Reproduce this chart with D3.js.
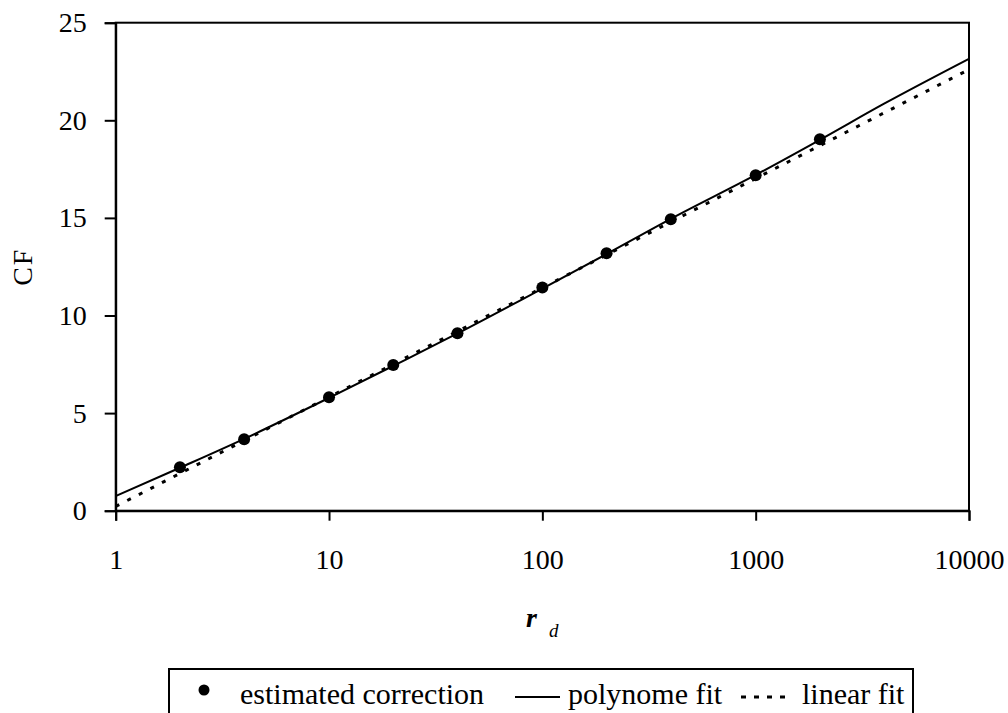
<!DOCTYPE html>
<html><head><meta charset="utf-8">
<script src="https://cdn.jsdelivr.net/npm/d3@7"></script>
<style>
body{margin:0;background:#fff;}
svg{display:block;font-family:"Liberation Serif","Times New Roman",serif;}
</style></head>
<body>
<svg id="c" width="1008" height="713"></svg>
<script>
// Data
const rdValues = [2, 4, 10, 20, 40, 100, 200, 400, 1000, 2000];
const cfValues = [2.22, 3.66, 5.81, 7.46, 9.09, 11.44, 13.19, 14.93, 17.18, 19.03];
const polyX = [1, 2, 4, 10, 20, 40, 100, 200, 400, 1000, 2000, 4000, 10000];
const polyY = [0.75, 2.2, 3.68, 5.78, 7.42, 9.08, 11.38, 13.15, 14.95, 17.2, 19.0, 20.85, 23.15];
const linX = [1, 10, 100, 1000, 10000];
const linY = [0.22, 5.82, 11.42, 17.02, 22.6];
const xTicks = [1, 10, 100, 1000, 10000];
const yTicks = [0, 5, 10, 15, 20, 25];
const legendLabels = ["estimated correction", "polynome fit", "linear fit"];

const svg = d3.select("#c");
const L = 115.7, R = 969, T = 22.7, B = 510.7;
const x = d3.scaleLog().domain([1, 10000]).range([L, R]);
const y = d3.scaleLinear().domain([0, 25]).range([B, T]);

// frame
svg.append("rect").attr("x", L).attr("y", T).attr("width", R - L).attr("height", B - T)
  .attr("fill", "none").attr("stroke", "#000").attr("stroke-width", 2);

// axes
const yAxis = svg.append("g").attr("transform", `translate(${L},0)`)
  .call(d3.axisLeft(y).tickValues(yTicks).tickSize(11).tickPadding(18).tickFormat(d3.format("d")));
const xAxis = svg.append("g").attr("transform", `translate(0,${B})`)
  .call(d3.axisBottom(x).tickValues(xTicks).tickSize(10).tickPadding(28).tickFormat(d3.format("d")));
[yAxis, xAxis].forEach(g => {
  g.select(".domain").attr("stroke", "#000").attr("stroke-width", 2);
  g.selectAll(".tick line").attr("stroke", "#000").attr("stroke-width", 2);
  g.selectAll(".tick text").attr("fill", "#000").style("font-family", '"Liberation Serif", serif').style("font-size", "28px");
});

// lines
const line = d3.line().x(d => x(d[0])).y(d => y(d[1])).curve(d3.curveMonotoneX);
svg.append("path").datum(d3.zip(polyX, polyY)).attr("d", line)
  .attr("fill", "none").attr("stroke", "#000").attr("stroke-width", 2);
svg.append("path").datum(d3.zip(linX, linY)).attr("d", line)
  .attr("fill", "none").attr("stroke", "#000").attr("stroke-width", 3).attr("stroke-dasharray", "4,9");

// points
svg.append("g").selectAll("circle").data(d3.zip(rdValues, cfValues)).join("circle")
  .attr("cx", d => x(d[0])).attr("cy", d => y(d[1])).attr("r", 6).attr("fill", "#000");

// axis titles
svg.append("text").attr("transform", `translate(32,${(T + B) / 2}) rotate(-90)`)
  .attr("text-anchor", "middle").style("font-size", "28px").style("letter-spacing", "2px").text("CF");
const xt = svg.append("text").attr("x", 526).attr("y", 627).style("font-size", "28px");
xt.append("tspan").style("font-weight", "bold").style("font-style", "italic").text("r");
xt.append("tspan").attr("x", 549).attr("y", 637).style("font-style", "italic").style("font-size", "19px").text("d");

// legend
const lg = svg.append("g");
lg.append("rect").attr("x", 169).attr("y", 669).attr("width", 913 - 169).attr("height", 80)
  .attr("fill", "#fff").attr("stroke", "#000").attr("stroke-width", 2);
lg.append("circle").attr("cx", 204).attr("cy", 690).attr("r", 5.5).attr("fill", "#000");
lg.append("text").attr("x", 240).attr("y", 704).style("font-size", "30px").text(legendLabels[0]);
lg.append("line").attr("x1", 515).attr("x2", 560).attr("y1", 697).attr("y2", 697)
  .attr("stroke", "#000").attr("stroke-width", 2);
lg.append("text").attr("x", 568).attr("y", 704).style("font-size", "30px").text(legendLabels[1]);
lg.append("line").attr("x1", 741).attr("x2", 792).attr("y1", 697).attr("y2", 697)
  .attr("stroke", "#000").attr("stroke-width", 3).attr("stroke-dasharray", "5,8");
lg.append("text").attr("x", 802).attr("y", 704).style("font-size", "30px").text(legendLabels[2]);
</script>
</body></html>
